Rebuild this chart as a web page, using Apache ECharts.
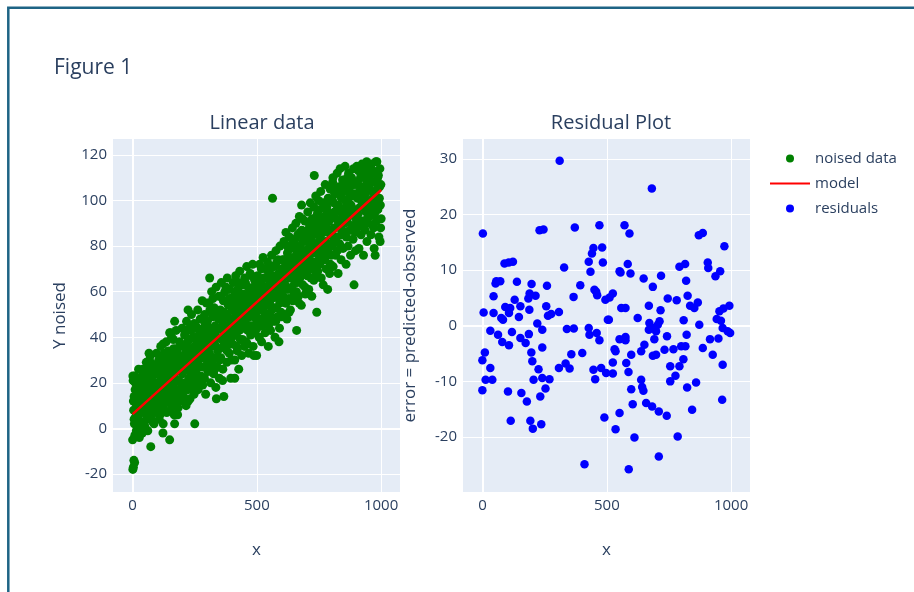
<!DOCTYPE html>
<html>
<head>
<meta charset="utf-8">
<script src="https://cdn.jsdelivr.net/npm/echarts@6/dist/echarts.min.js"></script>
<style>html,body{margin:0;padding:0;background:#fff;}#c{width:914px;height:592px;}</style>
</head>
<body>
<div id="c"></div>
<script>
// ---- data ----
const noisedPoints = [
[0,-5],[1,23],[1,-18],[2,21],[3,-17],[4,8],[5,-14],[6,14],[7,2],[8,23],[8,-15],[9,-3],[10,17],[12,5],[13,11],[15,-1],[16,19],[18,9],[20,0],[22,14],[24,26],[25,6],[27,-4],[29,12],[31,20],[33,3],[35,16],[37,9],[39,-2],[41,24],[42,26],[43,13],[45,7],[47,18],[49,1],
[51,22],[53,10],[55,29],[57,4],[59,15],[61,-1],[63,19],[65,8],[66,33],[67,26],[69,12],[71,32],[73,-8],[75,17],[77,6],[79,21],[82,13],[84,28],[86,2],[88,18],[90,9],[92,24],[94,15],[96,33],[98,7],
[101,20],[103,12],[105,30],[107,4],[109,25],[111,17],[113,36],[115,9],[117,22],[119,14],[121,28],[122,37],[122,-2],[123,2],[125,19],[127,33],[129,11],[131,24],[133,16],[135,38],[137,7],[139,21],[141,29],[143,13],[145,26],[147,18],[149,-5],[149,42],
[151,32],[153,15],[153,42],[155,24],[157,40],[159,10],[161,27],[163,19],[165,35],[167,6],[169,22],[169,2],[169,47],[171,30],[173,14],[175,43],[177,25],[179,17],[181,33],[181,6],[183,9],[185,28],[187,21],[189,38],[191,12],[193,26],[195,31],[197,19],[199,44],
[201,24],[203,36],[205,14],[207,29],[209,41],[211,20],[213,33],[215,10],[217,47],[219,26],[221,38],[223,17],[223,52],[225,31],[227,22],[229,44],[231,13],[233,35],[235,27],[237,50],[239,19],[241,32],[243,40],[245,24],[247,15],[249,36],[250,2],
[252,29],[254,45],[256,21],[258,38],[260,33],[262,52],[264,17],[266,41],[268,27],[270,36],[272,48],[274,23],[276,39],[278,31],[280,56],[282,19],[284,44],[286,34],[288,27],[290,50],[292,38],[294,15],[296,42],[297,55],[298,30],
[301,47],[303,25],[305,39],[307,55],[309,33],[310,66],[312,43],[314,20],[316,36],[318,60],[320,29],[322,49],[324,41],[326,24],[328,53],[330,37],[332,45],[334,31],[335,18],[336,62],[337,13],[339,40],[341,27],[343,50],[345,35],[347,58],[349,22],
[351,44],[353,52],[355,31],[357,64],[359,39],[361,47],[362,21],[363,26],[365,56],[367,14],[369,42],[371,60],[373,35],[375,50],[377,45],[379,29],[381,66],[383,38],[385,54],[387,43],[389,33],[391,61],[393,48],[395,22],[397,57],[399,40],
[401,52],[403,37],[405,64],[407,45],[409,58],[411,22],[411,30],[413,49],[415,67],[417,41],[419,55],[421,34],[423,61],[425,46],[427,26],[429,53],[431,69],[433,39],[435,57],[437,48],[439,32],[441,63],[443,44],[445,59],[447,50],[449,36],
[451,66],[453,47],[455,56],[457,38],[459,71],[461,52],[463,43],[465,62],[467,33],[469,57],[471,49],[473,68],[475,41],[477,60],[479,54],[481,45],[483,72],[485,36],[487,58],[488,32],[489,51],[491,65],[493,42],[495,55],[497,48],[499,61],[499,32],
[501,44],[503,67],[505,53],[507,59],[509,40],[511,72],[513,56],[515,48],[517,64],[519,38],[521,61],[523,52],[525,75],[527,46],[529,66],[531,57],[533,42],[535,70],[537,54],[539,62],[541,49],[543,73],[545,58],[546,36],[547,45],[549,65],
[551,55],[553,68],[555,43],[557,61],[559,76],[561,52],[563,101],[565,64],[567,47],[569,71],[571,58],[573,40],[575,67],[577,78],[579,53],[581,62],[583,49],[585,74],[587,57],[589,66],[589,38],[591,44],[593,80],[595,60],[597,51],[599,70],
[601,59],[603,74],[605,66],[607,50],[609,82],[611,63],[613,71],[615,55],[617,86],[619,68],[621,48],[623,77],[625,61],[627,72],[629,57],[631,84],[633,66],[635,52],[637,79],[639,70],[641,62],[643,88],[645,56],[647,75],[649,67],
[651,81],[653,64],[655,73],[657,90],[659,60],[660,43],[661,77],[663,69],[665,85],[667,58],[669,74],[671,93],[673,66],[675,80],[677,71],[679,54],[680,98],[681,87],[683,92],[685,63],[687,76],[689,83],[691,68],[693,91],[695,59],[697,78],[699,72],
[701,86],[703,67],[705,95],[707,79],[709,61],[711,88],[713,74],[715,99],[717,70],[719,83],[721,58],[723,92],[725,77],[727,85],[729,65],[731,111],[733,90],[735,73],[737,102],[739,81],[741,51],[743,94],[745,69],[747,87],[749,76],
[751,96],[753,72],[755,84],[757,104],[759,66],[761,89],[763,78],[765,99],[767,63],[769,86],[771,93],[773,74],[775,107],[777,82],[779,70],[781,97],[783,88],[785,61],[787,101],[789,79],[791,91],[793,68],[795,105],[797,85],[799,76],
[801,94],[803,80],[805,108],[806,110],[807,71],[809,99],[811,88],[813,103],[815,104],[817,76],[819,92],[821,84],[823,112],[825,97],[827,68],[829,90],[831,106],[833,81],[835,114],[837,95],[839,74],[841,101],[843,87],[845,109],[847,79],[849,93],
[851,104],[853,85],[855,115],[857,97],[859,72],[861,108],[863,91],[865,100],[867,80],[869,112],[871,94],[873,87],[875,106],[877,76],[879,98],[881,110],[883,89],[885,102],[887,83],[889,114],[891,63],[893,96],[895,107],[897,78],[899,92],
[901,108],[902,115],[903,88],[905,101],[907,94],[909,113],[911,79],[913,104],[915,97],[917,110],[919,85],[921,100],[923,116],[925,91],[927,106],[929,76],[931,99],[933,112],[935,87],[937,103],[939,95],[941,109],[942,117],[943,82],[945,98],[947,114],[949,90],
[951,106],[953,93],[955,111],[957,100],[959,85],[961,116],[963,97],[965,104],[967,89],[969,113],[971,102],[972,79],[973,94],[975,108],[976,76],[977,99],[979,117],[981,91],[983,117],[985,105],[987,96],[989,111],[991,84],[993,101],[995,114],[996,82],[997,98],[999,107],[1000,92],
[3,12],[6,4],[11,20],[14,-3],[17,10],[21,16],[23,2],[26,22],[30,8],[34,18],[38,11],[44,21],[48,-1],[52,15],[56,24],[60,6],[64,17],[68,30],[72,11],[76,23],[80,3],[85,19],[89,27],[93,12],[97,20],
[102,28],[106,15],[110,6],[114,23],[118,31],[124,10],[128,26],[132,19],[136,30],[140,13],[144,34],[148,22],[152,8],[156,29],[160,17],[164,39],[168,26],[172,12],[176,35],[180,21],[184,31],[188,14],[192,36],[196,25],[200,16],
[204,30],[208,19],[212,42],[216,28],[220,34],[224,12],[228,39],[232,25],[236,43],[240,29],[244,18],[248,46],[253,34],[257,26],[261,44],[265,30],[269,20],[273,40],[277,48],[281,27],[285,36],[289,22],[293,46],[297,33],[299,41],
[302,35],[306,28],[311,52],[315,44],[319,31],[323,57],[327,38],[331,26],[333,50],[338,43],[342,34],[346,48],[350,30],[354,58],[358,44],[364,36],[368,51],[372,40],[376,62],[380,34],[384,49],[388,57],[392,37],[396,46],[398,30],
[402,44],[406,55],[410,41],[414,60],[418,36],[422,50],[426,64],[430,43],[434,51],[438,58],[442,39],[446,55],[450,47],[454,64],[458,52],[462,37],[466,59],[470,45],[474,54],[478,67],[482,50],[486,62],[490,44],[494,57],[498,51],
[502,58],[506,47],[510,63],[514,53],[518,70],[522,45],[526,60],[530,51],[534,66],[538,48],[542,57],[548,68],[552,50],[556,63],[560,57],[564,71],[568,53],[572,64],[576,47],[580,73],[584,59],[588,68],[592,55],[596,65],[600,49],
[602,67],[606,58],[610,74],[614,63],[618,55],[622,80],[626,67],[630,51],[634,74],[638,61],[642,81],[646,68],[650,59],[654,83],[658,70],[662,64],[666,78],[670,55],[674,86],[678,75],[682,69],[686,82],[690,74],[694,62],[698,85],
[702,77],[706,70],[710,90],[714,81],[718,66],[722,86],[726,72],[730,97],[734,80],[738,68],[742,88],[746,78],[748,100],[752,82],[756,92],[760,75],[764,88],[768,97],[772,80],[776,91],[780,76],[784,95],[788,86],[792,100],[796,72],
[802,87],[804,100],[808,82],[812,95],[816,88],[820,105],[824,78],[828,98],[832,91],[836,102],[840,85],[844,96],[848,107],[852,90],[856,100],[860,84],[864,110],[868,93],[872,103],[876,96],[880,87],[884,107],[888,94],[892,103],[896,86],
[904,96],[908,107],[912,90],[916,103],[920,111],[924,97],[928,89],[932,105],[936,114],[940,100],[944,92],[948,108],[952,99],[956,115],[960,94],[964,108],[968,101],[970,88],[974,112],[978,104],[982,96],[986,110],[990,98],[994,106],[998,88]
];
const modelX = [0, 1000];
const modelY = [6.3, 104.6];
const residualPoints = [
[310,29.7],[1,16.6],[229,17.2],[245,17.3],[371,17.7],[470,18.1],[446,14.0],[481,14.1],[440,13.0],[88,11.2],[105,11.4],[122,11.5],[328,10.5],[427,11.5],[484,11.4],[434,9.7],[55,8.0],[71,8.0],[52,7.6],[138,7.9],[197,7.5],[259,7.2],[393,7.3],[450,6.5],[457,6.1],[461,5.5],[44,5.3],[129,4.7],[189,5.8],[184,4.9],[213,5.4],[366,5.2],[494,4.7],[91,3.4],[111,3.2],[152,3.5],[188,2.9],[256,3.5],[4,2.4],[44,2.3],[307,2.5],[276,2.1],[75,1.4],[82,1.1],[106,2.3],[146,1.6],[263,1.8],[504,1.1],[220,0.4],[31,-0.9],[62,-1.6],[118,-1.1],[186,-1.5],[240,-0.7],[339,-0.6],[367,-0.5],[427,-0.4],[430,-1.6],[459,-1.3],[470,-2.6],[79,-2.9],[106,-3.5],[152,-2.2],[173,-3.1],[240,-3.9],[9,-4.8],[-1,-6.2],[196,-4.8],[200,-6.4],[357,-5.1],[401,-4.9],[31,-7.6],[225,-7.8],[307,-7.6],[334,-6.8],[350,-7.7],[446,-7.9],[453,-9.6],[477,-7.6],[497,-8.5],[12,-9.7],[39,-9.7],[205,-9.7],[240,-9.4],[269,-9.6],[253,-11.3],[-1,-11.6],[102,-11.8],[156,-12.1],[232,-12.7],[178,-13.6],[113,-17.1],[192,-17.1],[202,-18.5],[236,-17.7],[490,-16.5],[410,-24.9],
[681,24.7],[571,18.1],[591,16.6],[870,16.3],[886,16.7],[973,14.3],[584,11.1],[551,9.8],[555,9.6],[595,9.4],[648,8.5],[718,9.0],[685,7.0],[792,10.6],[815,11.1],[819,8.1],[906,11.4],[908,10.4],[937,8.9],[956,9.8],[524,5.8],[511,5.1],[745,4.9],[781,4.6],[825,5.4],[669,3.6],[558,3.2],[575,3.2],[716,2.8],[835,3.6],[866,4.2],[852,3.2],[993,3.6],[969,3.1],[953,2.6],[942,1.2],[959,0.9],[966,-0.4],[986,-1.0],[996,-1.3],[624,1.4],[671,0.5],[669,-0.7],[685,-0.4],[705,0.2],[712,0.8],[698,-1.0],[809,1.0],[872,0.2],[508,1.1],[551,-2.4],[575,-2.0],[575,-2.6],[691,-2.4],[742,-1.9],[821,-1.6],[651,-3.4],[638,-4.6],[732,-4.3],[768,-4.2],[799,-3.7],[816,-3.7],[531,-4.2],[535,-4.6],[598,-5.2],[685,-5.4],[698,-5.2],[886,-4.0],[915,-2.4],[949,-2.3],[926,-5.2],[808,-6.0],[524,-6.6],[578,-6.7],[755,-7.3],[792,-7.3],[966,-7.0],[524,-8.6],[587,-8.3],[776,-9.0],[755,-10.0],[638,-9.7],[642,-11.0],[647,-11.7],[598,-11.4],[823,-11.1],[859,-10.2],[604,-14.1],[658,-13.9],[682,-14.5],[709,-15.4],[741,-16.2],[843,-15.1],[964,-13.3],[551,-15.7],[535,-18.6],[611,-20.1],[785,-19.9],[709,-23.5],[588,-25.8]
];
const xTicks = [0, 500, 1000];
const yTicksLeft = [-20, 0, 20, 40, 60, 80, 100, 120];
const yTicksRight = [-20, -10, 0, 10, 20, 30];

// ---- chart ----
const FONT = '"Open Sans", sans-serif';
const TXT = '#2a3f5f';
const chart = echarts.init(document.getElementById('c'), null, {renderer: 'canvas'});

function xAxisDef(idx) {
  return {
    type: 'value', gridIndex: idx, min: -79, max: 1076,
    name: 'x', nameLocation: 'middle', nameGap: 50,
    nameTextStyle: {color: TXT, fontSize: 17, fontFamily: FONT},
    axisLine: {show: false},
    axisTick: {show: false, customValues: xTicks},
    axisLabel: {customValues: xTicks, color: TXT, fontSize: 15, fontFamily: FONT, margin: 6, formatter: v => String(v)},
    splitLine: {show: true, lineStyle: {color: '#ffffff', width: 1}}
  };
}
function yAxisDef(idx, min, max, ticks, name, gap) {
  return {
    type: 'value', gridIndex: idx, min: min, max: max,
    name: name, nameLocation: 'middle', nameGap: gap, nameRotate: 90,
    nameTextStyle: {color: TXT, fontSize: 17, fontFamily: FONT},
    axisLine: {show: false},
    axisTick: {show: false, customValues: ticks},
    axisLabel: {customValues: ticks, color: TXT, fontSize: 15, fontFamily: FONT, margin: 6, formatter: v => String(v)},
    splitLine: {show: true, lineStyle: {color: '#ffffff', width: 1}}
  };
}
function zeroLines(idx) {
  return {
    name: 'zero' + idx, type: 'line', xAxisIndex: idx, yAxisIndex: idx, data: [], z: 1, silent: true,
    markLine: {silent: true, z: 1, symbol: 'none', label: {show: false}, animation: false,
      lineStyle: {color: '#ffffff', width: 2, type: 'solid'}, emphasis: {disabled: true},
      data: [{xAxis: 0}, {yAxis: 0}]}
  };
}

const option = {
  backgroundColor: '#ffffff',
  animation: false,
  title: [
    {text: 'Figure 1', left: 49, top: 53, textStyle: {color: TXT, fontSize: 21, fontWeight: 'normal', fontFamily: FONT}},
    {text: 'Linear data', left: 257, top: 108, textAlign: 'center', textStyle: {color: TXT, fontSize: 20, fontWeight: 'normal', fontFamily: FONT}},
    {text: 'Residual Plot', left: 606, top: 108, textAlign: 'center', textStyle: {color: TXT, fontSize: 20, fontWeight: 'normal', fontFamily: FONT}}
  ],
  legend: {
    orient: 'vertical', left: 770, top: 146, padding: 0, itemGap: 0,
    itemWidth: 40, itemHeight: 8,
    textStyle: {color: TXT, fontSize: 15, fontFamily: FONT, lineHeight: 25},
    data: [
      {name: 'noised data', icon: 'circle'},
      {name: 'model', icon: 'path://M0,0 H40 V2 H0 Z'},
      {name: 'residuals', icon: 'circle'}
    ]
  },
  grid: [
    {left: 113, top: 139, width: 287, height: 353, backgroundColor: '#E5ECF6', show: true, borderWidth: 0},
    {left: 463, top: 139, width: 287, height: 353, backgroundColor: '#E5ECF6', show: true, borderWidth: 0}
  ],
  xAxis: [xAxisDef(0), xAxisDef(1)],
  yAxis: [
    yAxisDef(0, -27.9, 127, yTicksLeft, 'Y noised', 44),
    yAxisDef(1, -29.9, 33.6, yTicksRight, 'error = predicted-observed', 44)
  ],
  series: [
    zeroLines(0),
    zeroLines(1),
    {
      name: 'noised data', type: 'scatter', xAxisIndex: 0, yAxisIndex: 0, z: 3,
      symbolSize: 9, itemStyle: {color: '#008000', opacity: 1},
      data: noisedPoints
    },
    {
      name: 'model', type: 'line', xAxisIndex: 0, yAxisIndex: 0, z: 4,
      symbol: 'none', showSymbol: false, lineStyle: {color: '#ff0000', width: 2.5}, itemStyle: {color: '#ff0000'},
      data: modelX.map((x, i) => [x, modelY[i]])
    },
    {
      name: 'residuals', type: 'scatter', xAxisIndex: 1, yAxisIndex: 1, z: 3,
      symbolSize: 8.5, itemStyle: {color: '#0000ff', opacity: 1},
      data: residualPoints
    }
  ],
  graphic: [
    {type: 'polyline', silent: true, shape: {points: [[8.3, 592], [8.3, 7.7], [914, 7.7]]},
     style: {stroke: '#1e6485', lineWidth: 2.5, fill: null}}
  ]
};
chart.setOption(option);
</script>
</body>
</html>
